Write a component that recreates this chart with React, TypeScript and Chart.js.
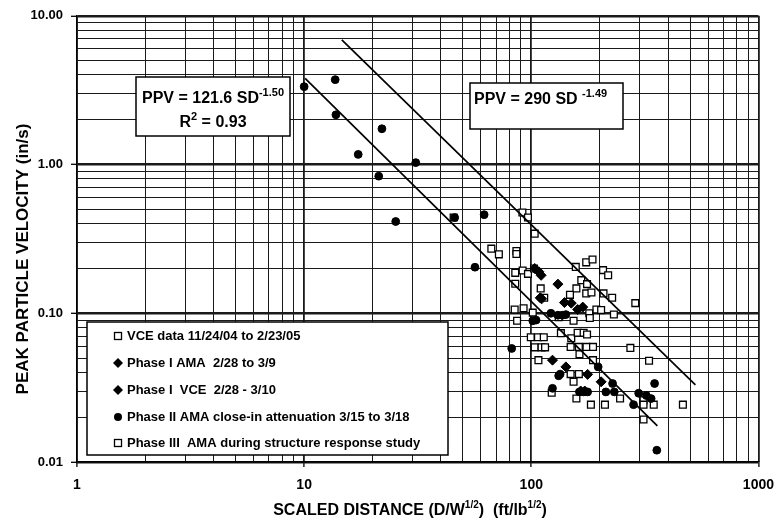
import React, { useEffect, useRef } from 'react';
import { Chart, registerables } from 'chart.js';

Chart.register(...registerables);

const FONT = '"Liberation Sans", Arial, Helvetica, sans-serif';

// ---- axis ticks ----
const xDecades = [1, 10, 100, 1000];
const xDecadeLabels = ['1', '10', '100', '1000'];
const yDecades = [0.01, 0.1, 1, 10];
const yDecadeLabels = ['0.01', '0.10', '1.00', '10.00'];
const minorSteps = [2, 3, 4, 5, 6, 7, 8, 9];

// ---- series (scaled distance, peak particle velocity) ----
const vceData: [number, number][] = [
  [45.5, 0.44], [91.4, 0.476], [96.7, 0.44], [103.5, 0.343], [66.7, 0.272], [72, 0.249],
  [86, 0.262], [86, 0.25], [85, 0.187], [91.6, 0.194], [96.7, 0.184], [102.8, 0.2],
  [85, 0.158], [110, 0.147], [157, 0.205], [174.5, 0.22], [186, 0.23], [207, 0.195],
  [218, 0.18], [166, 0.167], [176, 0.157], [158, 0.147], [148, 0.133], [174.5, 0.136],
  [184, 0.138], [208, 0.136], [227, 0.127], [287, 0.117], [193.5, 0.106], [203, 0.105],
  [180, 0.1], [181, 0.093], [231, 0.098], [84.5, 0.106], [92.5, 0.108], [101.5, 0.101],
  [86.6, 0.089], [153.5, 0.089], [132, 0.094], [114, 0.127],
];

const phaseIAmaData: [number, number][] = [
  [103.5, 0.2], [108, 0.19], [110.5, 0.18], [111, 0.125], [131, 0.157],
  [140, 0.118], [150, 0.117], [160, 0.106], [168.5, 0.11],
];

const phaseIVceData: [number, number][] = [
  [124, 0.0484], [142, 0.0436], [177, 0.0388], [203, 0.0346], [165, 0.03], [172, 0.03],
  [109.5, 0.127],
];

const phaseIIData: [number, number][] = [
  [10.0, 3.34], [13.7, 3.72], [13.8, 2.16], [17.3, 1.17], [22.0, 1.74], [21.3, 0.835],
  [31.0, 1.03], [25.3, 0.414], [46, 0.44], [62, 0.46], [56.5, 0.204], [82, 0.058],
  [122, 0.1], [131, 0.097], [137, 0.097], [142, 0.098], [101.5, 0.089], [105, 0.09],
  [134, 0.039], [132, 0.038], [124, 0.0313], [163, 0.0296], [170, 0.0296], [177, 0.0296],
  [197, 0.0436], [213, 0.0296], [228, 0.0337], [232, 0.0296], [297, 0.029], [321, 0.028],
  [337, 0.0267], [282, 0.0243], [349, 0.0337], [357, 0.012],
];

const phaseIIIData: [number, number][] = [
  [99.5, 0.069], [107, 0.069], [113.5, 0.069], [103.5, 0.059], [111, 0.059], [115, 0.059],
  [135, 0.0735], [150, 0.068], [160, 0.074], [170, 0.074], [176, 0.072], [149, 0.0594],
  [162, 0.0594], [175, 0.0594], [187, 0.0594], [163, 0.053], [273, 0.0585], [107.5, 0.0484],
  [187, 0.0484], [330, 0.048], [149, 0.039], [162, 0.039], [153.5, 0.0346], [123, 0.0292],
  [158, 0.0267], [246, 0.0267], [183, 0.0243], [211, 0.0243], [312, 0.026], [312, 0.0243],
  [346, 0.0243], [465, 0.0243], [312, 0.0193],
];

// fitted lines, endpoints
const fitLowerSD = [10.1, 359];
const fitLowerPPV = [3.8, 0.0175];
const fitUpperSD = [14.65, 528];
const fitUpperPPV = [6.9, 0.033];

const legendLabels = [
  'VCE data 11/24/04 to 2/23/05',
  'Phase I AMA  2/28 to 3/9',
  'Phase I  VCE  2/28 - 3/10',
  'Phase II AMA close-in attenuation 3/15 to 3/18',
  'Phase III  AMA during structure response study',
];
const legendMarkers = ['square', 'diamond', 'diamond', 'circle', 'square'];

function buildLogTicks(decades: number[]): number[] {
  const out: number[] = [];
  decades.forEach((d, i) => {
    out.push(d);
    if (i < decades.length - 1) minorSteps.forEach((m) => out.push(+(d * m).toPrecision(6)));
  });
  return out;
}
const xTickValues = buildLogTicks(xDecades);
const yTickValues = buildLogTicks(yDecades);

function decadeIndex(v: number, decades: number[]): number {
  return decades.findIndex((d) => Math.abs(Math.log10(v) - Math.log10(d)) < 1e-6);
}

const toPts = (arr: [number, number][]) => arr.map(([x, y]) => ({ x, y }));
const linePts = (xs: number[], ys: number[]) => xs.map((x, i) => ({ x, y: ys[i] }));

type Seg = { t: string; sup?: boolean };
function drawRich(ctx: CanvasRenderingContext2D, segs: Seg[], x: number, y: number, align: string, size: number, supSize: number) {
  const main = `bold ${size}px ${FONT}`;
  const sup = `bold ${supSize}px ${FONT}`;
  let total = 0;
  const widths = segs.map((s) => {
    ctx.font = s.sup ? sup : main;
    const w = ctx.measureText(s.t).width;
    total += w;
    return w;
  });
  let cx = align === 'center' ? x - total / 2 : align === 'right' ? x - total : x;
  ctx.textAlign = 'left';
  ctx.textBaseline = 'alphabetic';
  ctx.fillStyle = '#000';
  segs.forEach((s, i) => {
    ctx.font = s.sup ? sup : main;
    ctx.fillText(s.t, cx, s.sup ? y - size * 0.42 : y);
    cx += widths[i];
  });
}

function drawBox(ctx: CanvasRenderingContext2D, x: number, y: number, w: number, h: number) {
  ctx.save();
  ctx.fillStyle = '#fff';
  ctx.fillRect(x, y, w, h);
  ctx.strokeStyle = '#000';
  ctx.lineWidth = 1.5;
  ctx.strokeRect(x, y, w, h);
  ctx.restore();
}

function drawMarker(ctx: CanvasRenderingContext2D, kind: string, x: number, y: number) {
  ctx.save();
  ctx.strokeStyle = '#000';
  ctx.fillStyle = '#000';
  ctx.lineWidth = 1.3;
  if (kind === 'square') {
    ctx.fillStyle = '#fff';
    ctx.fillRect(x - 3.5, y - 3.5, 7, 7);
    ctx.strokeRect(x - 3.5, y - 3.5, 7, 7);
  } else if (kind === 'diamond') {
    ctx.beginPath();
    ctx.moveTo(x, y - 5);
    ctx.lineTo(x + 5, y);
    ctx.lineTo(x, y + 5);
    ctx.lineTo(x - 5, y);
    ctx.closePath();
    ctx.fill();
  } else {
    ctx.beginPath();
    ctx.arc(x, y, 4, 0, Math.PI * 2);
    ctx.fill();
  }
  ctx.restore();
}

const overlayPlugin = {
  id: 'overlay',
  beforeDraw(chart: any) {
    const ctx = chart.ctx;
    ctx.save();
    ctx.fillStyle = '#fff';
    ctx.fillRect(0, 0, chart.width, chart.height);
    ctx.restore();
  },
  afterDraw(chart: any) {
    const ctx: CanvasRenderingContext2D = chart.ctx;
    ctx.save();
    // equation boxes
    drawBox(ctx, 136, 77, 154, 59);
    drawRich(ctx, [{ t: 'PPV = 121.6 SD' }, { t: '-1.50', sup: true }], 213, 103, 'center', 16, 11);
    drawRich(ctx, [{ t: 'R' }, { t: '2', sup: true }, { t: ' = 0.93' }], 213, 127, 'center', 16, 11);
    drawBox(ctx, 470, 83, 153, 46);
    drawRich(ctx, [{ t: 'PPV = 290 SD ' }, { t: '-1.49', sup: true }], 474, 104, 'left', 16, 11);

    // legend
    drawBox(ctx, 87, 322, 361, 133);
    const rows = [336, 363, 390, 417, 443];
    legendLabels.forEach((label, i) => {
      drawMarker(ctx, legendMarkers[i], 118, rows[i]);
      ctx.font = `bold 13px ${FONT}`;
      ctx.fillStyle = '#000';
      ctx.textAlign = 'left';
      ctx.textBaseline = 'middle';
      ctx.fillText(label, 127, rows[i] + 0.5);
    });

    // y title
    ctx.save();
    ctx.translate(23, 259);
    ctx.rotate(-Math.PI / 2);
    ctx.font = `bold 17px ${FONT}`;
    ctx.fillStyle = '#000';
    ctx.textAlign = 'center';
    ctx.textBaseline = 'middle';
    ctx.fillText('PEAK PARTICLE VELOCITY (in/s)', 0, 0);
    ctx.restore();

    // x title
    drawRich(
      ctx,
      [{ t: 'SCALED DISTANCE (D/W' }, { t: '1/2', sup: true }, { t: ')  (ft/lb' }, { t: '1/2', sup: true }, { t: ')' }],
      410, 515, 'center', 16, 10,
    );
    ctx.restore();
  },
};

export default function App() {
  const ref = useRef<HTMLCanvasElement | null>(null);

  useEffect(() => {
    if (!ref.current) return;
    const tickFont = (size: number) => ({ family: FONT, size, weight: 'bold' as const });
    const chart = new Chart(ref.current, {
      type: 'scatter',
      data: {
        datasets: [
          {
            label: 'fit lower', data: linePts(fitLowerSD, fitLowerPPV), showLine: true,
            borderColor: '#000', borderWidth: 1.7, pointRadius: 0, order: 0,
          },
          {
            label: 'fit upper', data: linePts(fitUpperSD, fitUpperPPV), showLine: true,
            borderColor: '#000', borderWidth: 1.7, pointRadius: 0, order: 0,
          },
          {
            label: legendLabels[3], data: toPts(phaseIIData), pointStyle: 'circle', pointRadius: 3.9,
            backgroundColor: '#000', borderColor: '#000', borderWidth: 1, order: 1,
          },
          {
            label: legendLabels[1], data: toPts(phaseIAmaData), pointStyle: 'rectRot', pointRadius: 5,
            backgroundColor: '#000', borderColor: '#000', borderWidth: 1, order: 2,
          },
          {
            label: legendLabels[2], data: toPts(phaseIVceData), pointStyle: 'rectRot', pointRadius: 5,
            backgroundColor: '#000', borderColor: '#000', borderWidth: 1, order: 2,
          },
          {
            label: legendLabels[0], data: toPts(vceData), pointStyle: 'rect', pointRadius: 4.8,
            backgroundColor: '#fff', borderColor: '#000', borderWidth: 1.3, order: 3,
          },
          {
            label: legendLabels[4], data: toPts(phaseIIIData), pointStyle: 'rect', pointRadius: 4.8,
            backgroundColor: '#fff', borderColor: '#000', borderWidth: 1.3, order: 3,
          },
        ],
      },
      options: {
        responsive: false,
        animation: false,
        devicePixelRatio: 1,
        layout: { padding: { top: 15, right: 25, left: 0, bottom: 0 } },
        plugins: { legend: { display: false }, tooltip: { enabled: false } },
        scales: {
          x: {
            type: 'logarithmic',
            min: 1,
            max: 1000,
            afterBuildTicks: (s: any) => { s.ticks = xTickValues.map((v) => ({ value: v })); },
            afterFit: (s: any) => { s.height = 61; },
            ticks: {
              autoSkip: false, maxRotation: 0, minRotation: 0, padding: 10, color: '#000',
              font: tickFont(14),
              callback: (v: any) => { const i = decadeIndex(Number(v), xDecades); return i >= 0 ? xDecadeLabels[i] : ''; },
            },
            grid: {
              color: '#1a1a1a',
              lineWidth: (c: any) => (c.tick && decadeIndex(c.tick.value, xDecades) >= 0 ? 1.8 : 1),
              tickLength: 5,
              tickWidth: 1.3,
              tickColor: (c: any) => (c.tick && decadeIndex(c.tick.value, xDecades) >= 0 ? '#000' : 'rgba(0,0,0,0)'),
            },
            border: { display: true, color: '#000', width: 1.5 },
          },
          y: {
            type: 'logarithmic',
            min: 0.01,
            max: 10,
            afterBuildTicks: (s: any) => { s.ticks = yTickValues.map((v) => ({ value: v })); },
            afterFit: (s: any) => { s.width = 77; },
            ticks: {
              autoSkip: false, padding: 8, color: '#000',
              font: tickFont(13),
              callback: (v: any) => { const i = decadeIndex(Number(v), yDecades); return i >= 0 ? yDecadeLabels[i] : ''; },
            },
            grid: {
              color: '#1a1a1a',
              lineWidth: (c: any) => (c.tick && decadeIndex(c.tick.value, yDecades) >= 0 ? 2.6 : 1),
              tickLength: 6,
              tickWidth: 1.3,
              tickColor: (c: any) => (c.tick && decadeIndex(c.tick.value, yDecades) >= 0 ? '#000' : 'rgba(0,0,0,0)'),
            },
            border: { display: true, color: '#000', width: 1.5 },
          },
        },
      },
      plugins: [overlayPlugin],
    } as any);
    return () => chart.destroy();
  }, []);

  return (
    <div style={{ position: 'absolute', left: 0, top: 0, width: 784, height: 523, background: '#fff' }}>
      <canvas ref={ref} width={784} height={523} style={{ display: 'block' }} />
    </div>
  );
}
